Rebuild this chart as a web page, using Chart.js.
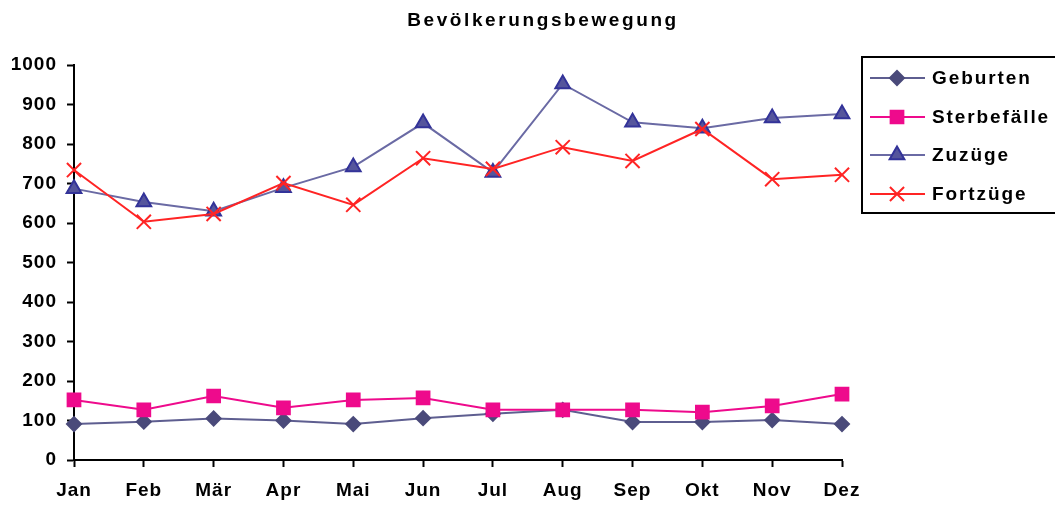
<!DOCTYPE html>
<html>
<head>
<meta charset="utf-8">
<script src="https://cdn.jsdelivr.net/npm/chart.js@4/dist/chart.umd.min.js"></script>
<style>
  html, body { margin: 0; padding: 0; background: #fff; }
  canvas { display: block; }
</style>
</head>
<body>
<canvas id="canvas"></canvas>
<script>
// output size
let width = 1055;
let height = 506;

// data
let months = ['Jan', 'Feb', 'Mär', 'Apr', 'Mai', 'Jun', 'Jul', 'Aug', 'Sep', 'Okt', 'Nov', 'Dez'];
let geburten    = [91, 97, 105, 100, 91, 106, 117, 127, 96, 96, 101, 91];
let sterbefaelle = [152, 127, 162, 132, 152, 157, 127, 127, 127, 121, 137, 167];
let zuzuege     = [687, 653, 630, 689, 742, 853, 728, 952, 855, 840, 866, 876];
let fortzuege   = [734, 603, 623, 701, 646, 764, 737, 792, 757, 838, 711, 722];
let title = 'Bevölkerungsbewegung';

let font = '"Liberation Sans", Arial, sans-serif';

let datasets = [
  { label: 'Geburten', data: geburten, borderColor: '#5e5e90', pointStyle: 'rectRot',
    pointRadius: 7, pointBackgroundColor: '#4a4a7a', pointBorderColor: '#4a4a7a', order: 4 },
  { label: 'Sterbefälle', data: sterbefaelle, borderColor: '#ee0a8c', pointStyle: 'rect',
    pointRadius: 9, pointBackgroundColor: '#ee0a8c', pointBorderColor: '#ee0a8c', order: 3 },
  { label: 'Zuzüge', data: zuzuege, borderColor: '#6a6aa4', pointStyle: 'triangle',
    pointRadius: 8.5, pointBackgroundColor: '#55559c', pointBorderColor: '#333399', order: 2 },
  { label: 'Fortzüge', data: fortzuege, borderColor: '#ff2424', pointStyle: 'crossRot',
    pointRadius: 10, pointBackgroundColor: '#ff2424', pointBorderColor: '#ff2424', order: 1 }
];
datasets.forEach(d => {
  d.borderWidth = 2;
  d.pointBorderWidth = 2;
  d.pointHoverRadius = d.pointRadius;
  d.tension = 0;
  d.fill = false;
});

// title + boxed legend (line with marker), drawn by hand
let decorations = {
  id: 'decorations',
  beforeDraw(chart) {
    chart.ctx.letterSpacing = '1px';
  },
  afterDraw(chart) {
    let ctx = chart.ctx;
    ctx.save();

    // title
    ctx.fillStyle = '#000';
    ctx.font = 'bold 19px ' + font;
    ctx.letterSpacing = '2.6px';
    ctx.textAlign = 'center';
    ctx.textBaseline = 'middle';
    ctx.fillText(title, 543, 21);

    // legend box
    ctx.letterSpacing = '0px';
    ctx.lineWidth = 2;
    ctx.strokeStyle = '#000';
    ctx.strokeRect(862, 57, 210, 156);

    let rows = [78, 117, 155, 194];
    datasets.forEach((d, i) => {
      let y = rows[i];
      ctx.beginPath();
      ctx.strokeStyle = d.borderColor;
      ctx.lineWidth = 2;
      ctx.moveTo(870, y);
      ctx.lineTo(925, y);
      ctx.stroke();

      ctx.fillStyle = d.pointBackgroundColor;
      ctx.strokeStyle = d.pointBorderColor;
      drawMarker(ctx, d.pointStyle, d.pointRadius, 897, y);

      ctx.fillStyle = '#000';
      ctx.font = 'bold 19px ' + font;
      ctx.letterSpacing = '1.9px';
      ctx.textAlign = 'left';
      ctx.textBaseline = 'middle';
      ctx.fillText(d.label, 932, y + 1);
      ctx.letterSpacing = '0px';
    });
    ctx.restore();
  }
};

function drawMarker(ctx, style, r, x, y) {
  ctx.beginPath();
  if (style === 'rectRot') {
    ctx.moveTo(x - r, y); ctx.lineTo(x, y - r); ctx.lineTo(x + r, y); ctx.lineTo(x, y + r);
    ctx.closePath(); ctx.fill(); ctx.stroke();
  } else if (style === 'rect') {
    let s = r * Math.SQRT1_2;
    ctx.rect(x - s, y - s, 2 * s, 2 * s); ctx.fill(); ctx.stroke();
  } else if (style === 'triangle') {
    let h = r * Math.sin(Math.PI / 3);
    ctx.moveTo(x, y - r); ctx.lineTo(x + h, y + r / 2); ctx.lineTo(x - h, y + r / 2);
    ctx.closePath(); ctx.fill(); ctx.stroke();
  } else {
    let s = r * Math.SQRT1_2;
    ctx.moveTo(x - s, y - s); ctx.lineTo(x + s, y + s);
    ctx.moveTo(x + s, y - s); ctx.lineTo(x - s, y + s);
    ctx.stroke();
  }
}

let options = {
  type: 'line',
  data: { labels: months, datasets: datasets },
  options: {
    animation: false,
    responsive: false,
    layout: { padding: { left: 0, right: 213, top: 65, bottom: 0 } },
    plugins: {
      legend: { display: false },
      title: { display: false },
      tooltip: { enabled: false }
    },
    scales: {
      x: {
        offset: false,
        border: { display: true, color: '#000', width: 2 },
        grid: { drawOnChartArea: false, drawTicks: true, tickLength: 7, tickColor: '#000', tickWidth: 2 },
        ticks: {
          color: '#000', font: { family: font, size: 19, weight: 'bold' },
          padding: 12, maxRotation: 0, autoSkip: false
        },
        afterFit(scale) { scale.height = 46; }
      },
      y: {
        min: 0, max: 1000,
        border: { display: true, color: '#000', width: 2 },
        grid: { drawOnChartArea: false, drawTicks: true, tickLength: 7, tickColor: '#000', tickWidth: 2 },
        ticks: {
          stepSize: 100, color: '#000', font: { family: font, size: 19, weight: 'bold' },
          padding: 10,
          callback: v => String(v)
        },
        afterFit(scale) { scale.width = 74; }
      }
    }
  },
  plugins: [decorations]
};

let context = document.getElementById('canvas');
context.width = width;
context.height = height;

let chart = new Chart(context, options);
</script>
</body>
</html>
